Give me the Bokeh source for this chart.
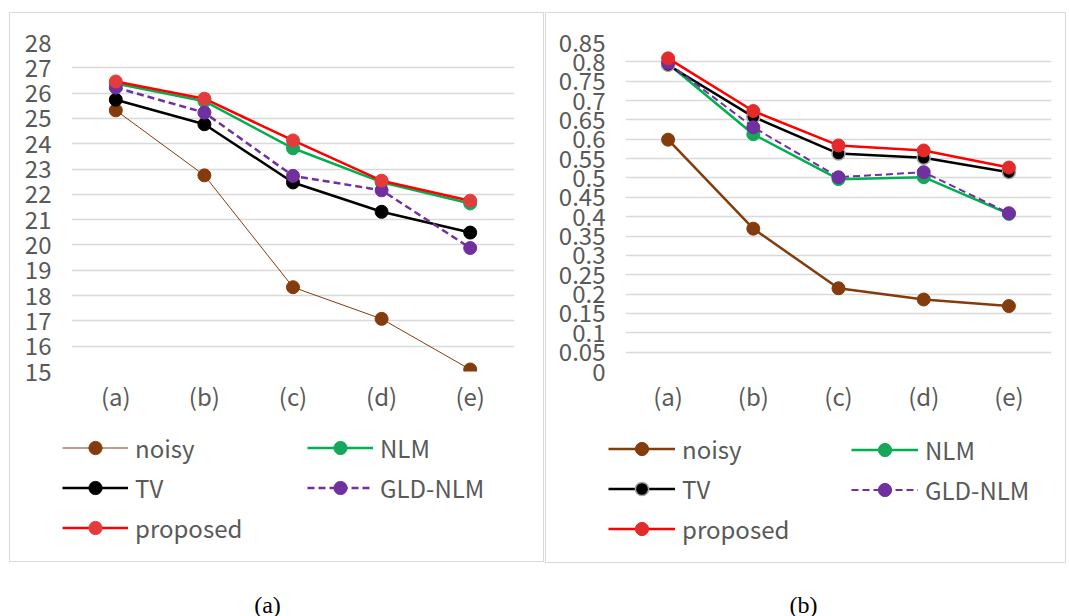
from bokeh.plotting import figure
from bokeh.models import (Range1d, FactorRange, FixedTicker, CustomJSTickFormatter,
                          Legend, LegendItem, Label)
from bokeh.layouts import row, column
from bokeh.embed import file_html
from bokeh.resources import INLINE

# ---------------- data ----------------
cats = ["(a)", "(b)", "(c)", "(d)", "(e)"]

psnr_noisy = [25.32, 22.75, 18.33, 17.08, 15.08]
psnr_nlm = [26.38, 25.68, 23.82, 22.48, 21.64]
psnr_tv = [25.74, 24.77, 22.47, 21.31, 20.49]
psnr_gld = [26.22, 25.23, 22.73, 22.16, 19.88]
psnr_prop = [26.46, 25.78, 24.13, 22.54, 21.75]
psnr_ticks = [15, 16, 17, 18, 19, 20, 21, 22, 23, 24, 25, 26, 27, 28]

ssim_noisy = [0.599, 0.369, 0.215, 0.186, 0.169]
ssim_nlm = [0.795, 0.613, 0.497, 0.502, 0.407]
ssim_tv = [0.792, 0.658, 0.563, 0.552, 0.515]
ssim_gld = [0.797, 0.631, 0.502, 0.515, 0.409]
ssim_prop = [0.809, 0.673, 0.584, 0.571, 0.527]
ssim_ticks = [0, 0.05, 0.1, 0.15, 0.2, 0.25, 0.3, 0.35, 0.4, 0.45,
              0.5, 0.55, 0.6, 0.65, 0.7, 0.75, 0.8, 0.85]

names = ["noisy", "NLM", "TV", "GLD-NLM", "proposed"]
captions = ["(a)", "(b)"]

FONT = "Noto Sans CJK SC"
TXT = "#595959"
GRID = "#D9D9D9"
CHART_H = 415
BOT_H = 201
NAN = float("nan")


def lines_css(rects):
    g = "linear-gradient(#D9D9D9,#D9D9D9)"
    layers = [f"{g} {x}px {y}px / {w}px {h}px no-repeat" for (x, y, w, h) in rects]
    layers.append("white")
    return {"background": ", ".join(layers)}


def top_rects(x0, y0, w):
    return [(x0, y0, w, 1), (x0, y0, 1, CHART_H - y0), (x0 + w - 1, y0, 1, CHART_H - y0)]


def bottom_rects(x0, w, y1):
    hb = y1 - CHART_H
    return [(x0, 0, 1, hb), (x0 + w - 1, 0, 1, hb), (x0, hb - 1, w, 1)]


def make_chart(width, yr, ticks, mbl, mbr, mbt, mbb, series, styles, box):
    p = figure(width=width, height=CHART_H, x_range=FactorRange(*cats),
               y_range=Range1d(*yr), output_backend="svg", toolbar_location=None,
               min_border_left=mbl, min_border_right=mbr,
               min_border_top=mbt, min_border_bottom=mbb)
    p.outline_line_color = None
    p.styles = lines_css(top_rects(*box))
    p.background_fill_color = "white"
    p.border_fill_alpha = 0
    p.xgrid.grid_line_color = None
    p.ygrid.grid_line_color = GRID
    p.ygrid.grid_line_width = 1.5
    for ax in (p.xaxis, p.yaxis):
        ax.axis_line_color = None
        ax.major_tick_line_color = None
        ax.minor_tick_line_color = None
        ax.major_label_text_font = FONT
        ax.major_label_text_font_size = "24px"
        ax.major_label_text_color = TXT
    p.xaxis.major_label_standoff = 0
    p.yaxis.major_label_standoff = 14
    p.yaxis.ticker = FixedTicker(ticks=ticks)
    p.yaxis.formatter = CustomJSTickFormatter(
        code="return String(Number(tick.toFixed(2)));")
    for vals, st in zip(series, styles):
        p.line(cats, vals, line_color=st["lc"], line_width=st["lw"],
               line_dash=st.get("dash", "solid"))
        p.scatter(cats, vals, size=st["ms"], fill_color=st["mc"],
                  line_color=st.get("mlc", st["mc"]), line_width=st.get("mlw", 1))
    return p


styles_a = [
    dict(lc="#843C0C", lw=1, mc="#843C0C", ms=13),
    dict(lc="#00B050", lw=2.5, mc="#16A85A", ms=13),
    dict(lc="#000000", lw=2.5, mc="#000000", ms=13),
    dict(lc="#7030A0", lw=2.5, mc="#7030A0", ms=13, dash="7 4"),
    dict(lc="#FF0000", lw=2.5, mc="#E43C3C", ms=13),
]
styles_b = [
    dict(lc="#843C0C", lw=2.5, mc="#843C0C", ms=13),
    dict(lc="#00B050", lw=2.5, mc="#16A85A", ms=13),
    dict(lc="#000000", lw=2.5, mc="#000000", ms=13, mlc="#A6A6A6", mlw=1.5),
    dict(lc="#7030A0", lw=2, mc="#7030A0", ms=13, dash="7 4"),
    dict(lc="#FF0000", lw=2.5, mc="#E42A2A", ms=13),
]

pA = make_chart(545, (15, 28), psnr_ticks, 71, 31, 42, 42,
                [psnr_noisy, psnr_nlm, psnr_tv, psnr_gld, psnr_prop], styles_a,
                (9, 12, 535))
pB = make_chart(524, (0, 0.85), ssim_ticks, 80, 18, 42, 40,
                [ssim_noisy, ssim_nlm, ssim_tv, ssim_gld, ssim_prop], styles_b,
                (0, 12, 521))

# ---- bottom strip: legends of both panels + captions ----
bot = figure(width=1069, height=BOT_H, output_backend="svg", toolbar_location=None,
             x_axis_location=None, y_axis_location=None, min_border=0,
             x_range=Range1d(0, 1), y_range=Range1d(0, 1))
bot.outline_line_color = None
bot.grid.visible = False
bot.background_fill_alpha = 0
bot.border_fill_alpha = 0
bot.styles = lines_css(bottom_rects(9, 535, 562) + bottom_rects(545, 521, 563))


def add_legends(styles, loc1, loc2, glyph_w):
    items = []
    for name, st in zip(names, styles):
        l = bot.line(x=[NAN], y=[NAN], line_color=st["lc"], line_width=st["lw"],
                     line_dash=st.get("dash", "solid"))
        s = bot.scatter(x=[NAN], y=[NAN], size=st["ms"], fill_color=st["mc"],
                        line_color=st.get("mlc", st["mc"]), line_width=st.get("mlw", 1))
        items.append(LegendItem(label=name, renderers=[l, s]))
    common = dict(orientation="vertical", glyph_width=glyph_w, glyph_height=33,
                  label_height=31, spacing=5, padding=0, margin=0,
                  label_standoff=7, border_line_color=None,
                  background_fill_alpha=0, label_text_font=FONT,
                  label_text_font_size="24px", label_text_color=TXT)
    bot.add_layout(Legend(items=[items[0], items[2], items[4]], location=loc1, **common))
    bot.add_layout(Legend(items=[items[1], items[3]], location=loc2, **common))


add_legends(styles_a, (62, 71.5), (307, 111), 66)
add_legends(styles_b, (608, 69.75), (851, 109.25), 67)

for txt, cx in zip(captions, [267, 803]):
    bot.add_layout(Label(x=cx, y=12, x_units="screen", y_units="screen", text=txt,
                         text_font="Liberation Serif", text_font_size="24px",
                         text_align="center", text_baseline="middle",
                         text_color="black"))

layout = column(row(pA, pB), bot)
open("out.html", "w").write(file_html(layout, INLINE))
